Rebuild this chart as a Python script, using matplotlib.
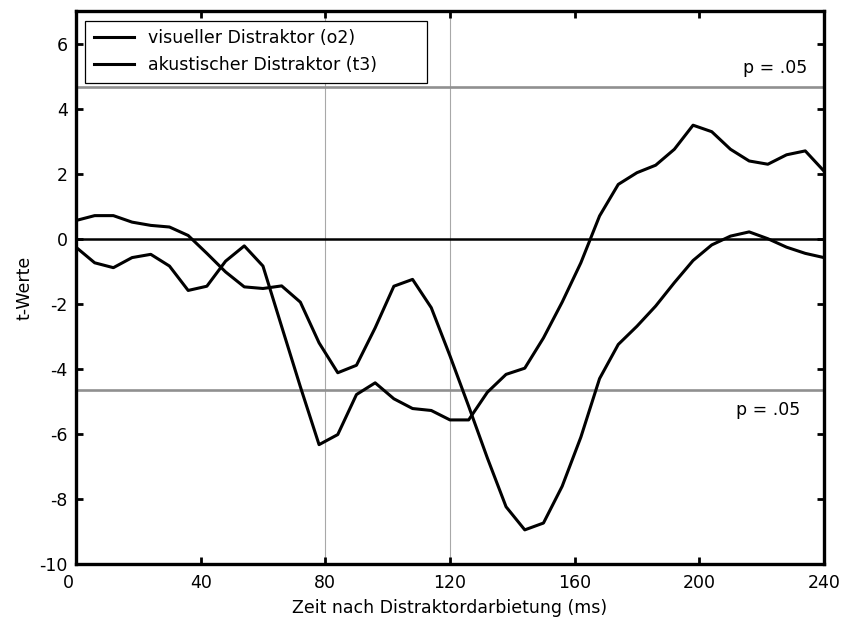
import matplotlib
matplotlib.use("Agg")
import matplotlib.pyplot as plt
import matplotlib.transforms as mtransforms
import numpy as np

plt.rcParams["font.family"] = ["DejaVu Sans"]
plt.rcParams["axes.unicode_minus"] = False

# ── Data (6 ms steps) ────────────────────────────────────────────────────────
zeit = np.arange(0, 241, 6)
visuell = [0.56, 0.71, 0.71, 0.51, 0.41, 0.36, 0.10, -0.45, -1.02, -1.48,
           -1.53, -1.45, -1.95, -3.20, -4.12, -3.89, -2.74, -1.46, -1.25, -2.12,
           -3.60, -5.15, -6.74, -8.24, -8.95, -8.74, -7.61, -6.10, -4.30, -3.25,
           -2.69, -2.07, -1.35, -0.67, -0.19, 0.08, 0.21, 0.00, -0.26, -0.45,
           -0.58]
akustisch = [-0.26, -0.74, -0.89, -0.58, -0.48, -0.84, -1.59, -1.46, -0.69, -0.22,
             -0.84, -2.70, -4.55, -6.33, -6.02, -4.79, -4.43, -4.92, -5.22, -5.28,
             -5.57, -5.57, -4.72, -4.17, -3.98, -3.05, -1.95, -0.74, 0.70, 1.67,
             2.03, 2.26, 2.75, 3.49, 3.29, 2.75, 2.39, 2.29, 2.58, 2.70,
             2.08]
labels = ["visueller Distraktor (o2)", "akustischer Distraktor (t3)"]
schwelle = 4.66          # t value for p = .05
marker_ms = [80, 120]    # vertical reference lines
xticks = list(range(0, 241, 40))
yticks = list(range(-10, 7, 2))

FS = 12.5

# ── Figure ────────────────────────────────────────────────────────────────────
fig = plt.figure(figsize=(8.45, 6.22), dpi=100)
ax = fig.add_axes([0.0899, 0.0932, 0.8852, 0.8891])

for m in marker_ms:
    ax.axvline(m, color="#a8a8a8", linewidth=0.8, zorder=1)
ax.axhline(schwelle, color="#909090", linewidth=1.9, zorder=1)
ax.axhline(-schwelle, color="#909090", linewidth=1.9, zorder=1)
ax.axhline(0, color="black", linewidth=1.8, zorder=2)

ax.plot(zeit, visuell, color="black", linewidth=2.2, label=labels[0], zorder=3)
ax.plot(zeit, akustisch, color="black", linewidth=2.2, label=labels[1], zorder=3)

ax.text(234.5, 5.1, "p = .05", ha="right", va="baseline", fontsize=FS)
ax.text(232.5, -5.43, "p = .05", ha="right", va="baseline", fontsize=FS)

ax.set_xlim(0, 240)
ax.set_ylim(-10, 7)
ax.set_xticks(xticks)
ax.set_yticks(yticks)
ax.tick_params(direction="in", length=5, width=2, labelsize=FS,
               top=True, right=True)
ax.tick_params(axis="x", pad=7)
ax.tick_params(axis="y", pad=6)
for sp in ax.spines.values():
    sp.set_linewidth(2.4)

# the "0" label sits a bit left of its tick in the original
lbl0 = ax.get_xticklabels()[0]
lbl0.set_transform(lbl0.get_transform() +
                   mtransforms.ScaledTranslation(-0.075, 0, fig.dpi_scale_trans))

ax.set_xlabel("Zeit nach Distraktordarbietung (ms)", fontsize=FS, labelpad=5)
ax.set_ylabel("t-Werte", fontsize=FS, labelpad=4)

leg = ax.legend(loc="upper left", bbox_to_anchor=(0.012, 0.0, 0.457, 0.9825),
                mode="expand", borderaxespad=0,
                fontsize=FS, handlelength=2.35, handletextpad=0.8,
                fancybox=False, framealpha=1, edgecolor="black",
                labelspacing=0.5, borderpad=0.5)
leg.get_frame().set_linewidth(0.9)
leg.set_zorder(5)

fig.savefig("out.png", dpi=100)
